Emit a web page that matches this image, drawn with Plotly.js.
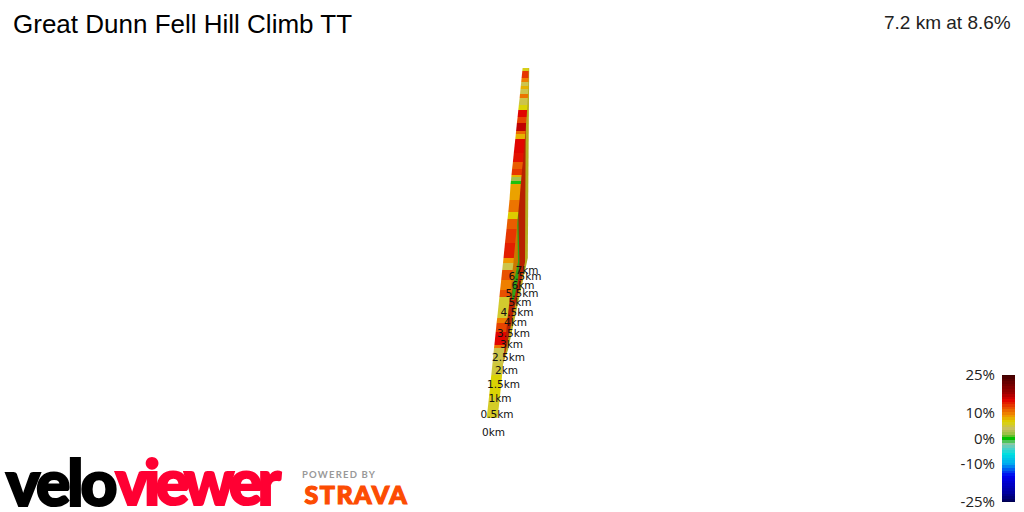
<!DOCTYPE html>
<html><head><meta charset="utf-8">
<script src="https://cdn.plot.ly/plotly-3.0.1.min.js"></script>
<style>html,body{margin:0;padding:0;background:#fff}#c{width:1024px;height:512px}</style>
</head><body><div id="c"></div>
<script>
// gradient colour stops [grade %, colour]
const gradeStops = [[-25,'#000050'],[-21,'#0000a0'],[-14.5,'#0000f0'],[-10,'#00a8f0'],[-6,'#00e0e0'],[-3.7,'#50d0c8'],[-1.8,'#90c8a0'],[0,'#00c000'],[1.5,'#90c040'],[4,'#c8c060'],[6.7,'#dcd400'],[9.3,'#f09000'],[12,'#e85000'],[15.2,'#e00000'],[17.8,'#a00000'],[25,'#400000']];
// top of road: boundaries (image rows) from start to finish, and grade of each stretch
const edgeY =    [418,397,375,363,348,345,332,323,318,297,290,280,270,263,258,243,229,219,212,200,184,181,177,175,169,162,153,139,134,131,123,117,110,105,98,94,89,86,82,78,71,68];
const edgeLeft = [486.7,489,491.3,492.5,494,494.4,495.7,496.6,497.2,499.4,500.1,501.2,502.2,503,503.5,505,506.5,507.5,508.3,509.5,510.6,510.9,511.3,511.5,512.1,512.9,513.8,515.3,515.8,516.1,516.9,517.6,518.3,518.8,519.6,520,520.5,520.8,521.2,521.6,522.3,522.6];
const edgeRight = [497.6,499.9,502.1,503.2,504.6,505,506.2,507.1,507.6,509.8,510.5,511.6,512.6,513.4,513.8,515.2,516.6,517.6,518.3,519.5,520.8,521.1,521.4,521.6,522.1,522.9,523.6,524.9,525.2,525.5,526.1,526.6,527.1,527.4,527.8,528,528.2,528.3,528.4,528.5,528.6,528.8];
const stretchGrade = [5.6,6.6,5,4.6,10.5,15,12.5,10,5.4,12,10,12,4.6,9,14,13,11.5,7,10.5,8.6,0.3,2.5,8,13,11.5,14.5,15,8,11,16.5,12.5,15,6.6,4.6,10.5,4.5,8,4.5,10,13,6];
// side walls seen to the right of the road: [grade] and outline rows
const wallNames = ['outer','inner','mid','near'];
const wallGrade = [5.6,13.5,0.6,9.5];
const wallShade = [0.85,0.8,0.85,0.85];
const wallX = [[524,529.2,527.8,524,518,508,500],[522,525.8,525,521.5,514,505,500],[516.5,517.5,519.5,518,514,512],[514,516.5,518,514,507,501,500]];
const wallY = [[68,68,258,276,305,350,372],[110,110,262,280,310,355,372],[184,184,262,280,300,300],[184,184,262,282,315,358,372]];
// distance markers
const kmLabels = ['0km','0.5km','1km','1.5km','2km','2.5km','3km','3.5km','4km','4.5km','5km','5.5km','6km','6.5km','7km'];
const kmX = [493.5,497,500,503.5,506.5,508.5,511.5,513.5,515.5,517,520,522,523,525,527];
const kmY = [433,415,399,385,371,358,345,334,323,313,303,294,286,277,271];
// colour bar
const barGrades = [-25,-24,-23,-22,-21,-20,-19,-18,-17,-16,-15,-14,-13,-12,-11,-10,-9,-8,-7,-6,-5,-4,-3,-2,-1,0,1,2,3,4,5,6,7,8,9,10,11,12,13,14,15,16,17,18,19,20,21,22,23,24,25];
const barTicks = [25,10,0,-10,-25];
const barTickText = ['25%','10%','0%','-10%','-25%'];

function hex(c){return [1,3,5].map(i=>parseInt(c.slice(i,i+2),16));}
function gradeColor(g,shade){
  shade = shade||1;
  let i=0; while(i<gradeStops.length-2 && g>gradeStops[i+1][0]) i++;
  const a=gradeStops[i],b=gradeStops[i+1],t=Math.max(0,Math.min(1,(g-a[0])/(b[0]-a[0])));
  const A=hex(a[1]),B=hex(b[1]);
  return 'rgb('+A.map((v,k)=>Math.round((v+(B[k]-v)*t)*shade)).join(',')+')';
}
const poly=(x,y,col)=>({type:'scatter',mode:'lines',x:x,y:y,fill:'toself',fillcolor:col,line:{width:0,color:col},hoverinfo:'skip',showlegend:false,xaxis:'x',yaxis:'y'});
const traces=[];
wallNames.forEach((n,i)=>traces.push(Object.assign(poly(wallX[i],wallY[i],gradeColor(wallGrade[i],wallShade[i])),{name:n})));
stretchGrade.forEach((g,i)=>{
  traces.push(poly(
    [edgeLeft[i],edgeRight[i],edgeRight[i+1],edgeLeft[i+1]],
    [edgeY[i],edgeY[i],edgeY[i+1],edgeY[i+1]],
    gradeColor(g)));
});
traces.push({type:'scatter',mode:'text',x:kmX,y:kmY,text:kmLabels,textposition:'middle center',textfont:{family:'DejaVu Sans',size:10.5,color:'#111'},hoverinfo:'skip',showlegend:false,xaxis:'x',yaxis:'y'});
traces.push({type:'heatmap',x:[0],y:barGrades,z:barGrades.map(g=>[g]),zmin:-25,zmax:25,zsmooth:false,
  colorscale:gradeStops.map(s=>[(s[0]+25)/50,s[1]]),showscale:false,hoverinfo:'skip',xaxis:'x2',yaxis:'y2'});

const ann=(text,x,y,size,color,family,weight,extra)=>Object.assign({text:text,x:x,y:y,xref:'x',yref:'y',xanchor:'left',yanchor:'middle',showarrow:false,font:{family:family,size:size,color:color,weight:weight},borderpad:0},extra||{});
const layout={
  width:1024,height:512,margin:{l:0,r:0,t:0,b:0},paper_bgcolor:'#fff',plot_bgcolor:'#fff',showlegend:false,
  title:{text:'Great Dunn Fell Hill Climb TT',x:13/1024,xanchor:'left',xref:'paper',y:1-24/512,yanchor:'middle',yref:'paper',font:{family:'Liberation Sans',size:26,color:'#000'}},
  xaxis:{domain:[0,1],range:[0,1024],visible:false,fixedrange:true},
  yaxis:{domain:[0,1],range:[512,0],visible:false,fixedrange:true},
  xaxis2:{domain:[1002/1024,1015/1024],range:[-0.5,0.5],visible:false,fixedrange:true,anchor:'y2'},
  yaxis2:{domain:[10/512,137/512],range:[-25,25],anchor:'x2',side:'left',tickmode:'array',tickvals:barTicks,ticktext:barTickText,ticks:'',showgrid:false,zeroline:false,showline:false,
    ticklabelstandoff:6,tickfont:{family:'Open Sans',size:15,color:'#222'},fixedrange:true},
  annotations:[
    ann('7.2 km at 8.6%',1012,22,19,'#222','Liberation Sans',400,{xanchor:'right'}),
    ann('velo',1,481,64,'#000','Lato',900,{xshift:-2}),
    ann('viewer',101,481,62,'#ff0033','Lato',900),
    ann('POWERED BY',307,474,9.5,'#999','Lato',700),
    ann('STRAVA',308,494,25,'#fc4c02','Lato',900)
  ]
};
Plotly.newPlot('c',traces,layout,{displayModeBar:false,staticPlot:true}).then(()=>{
  const t=[...document.querySelectorAll('.annotation-text')];
  t.forEach(e=>{const s=e.textContent;
    if(s==='velo'){ e.style.letterSpacing='-3px'; e.style.stroke='#000'; e.style.strokeWidth='2.2px'; }
    if(s==='viewer'){ e.style.letterSpacing='-4.5px'; e.style.stroke='#ff0033'; e.style.strokeWidth='2.2px'; }
    if(s==='POWERED BY') e.style.letterSpacing='1.2px';
    if(s==='STRAVA'){ e.style.letterSpacing='1.5px'; e.style.stroke='#fc4c02'; e.style.strokeWidth='1.2px'; }
  });
});
</script></body></html>
